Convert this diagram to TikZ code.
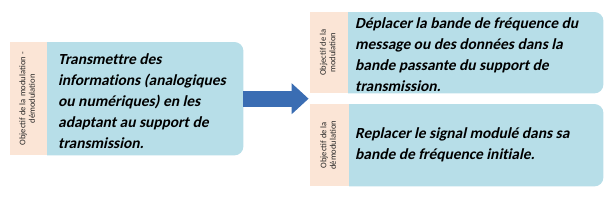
\documentclass[tikz,border=0pt]{standalone}
\usepackage{fontspec}
\setmainfont{Carlito}[BoldFont={Carlito Bold}, BoldItalicFont={Carlito Bold}, BoldItalicFeatures={FakeSlant=0.22, Ligatures=NoCommon}]
\usetikzlibrary{arrows.meta, backgrounds, calc}
\definecolor{tagpeach}{HTML}{FBE5D6}
\definecolor{boxblue}{HTML}{B7DEE8}
\definecolor{arrowblue}{HTML}{3A6DB3}
\newcommand{\tagtext}[1]{\rotatebox{90}{\begin{tabular}{@{}c@{}}#1\end{tabular}}}

\begin{document}
\begin{tikzpicture}[x=1pt,y=1pt,
  tag/.style={fill=tagpeach, inner sep=0pt, font=\fontsize{8.6}{9.5}\selectfont, text=black!85},
  panel/.style={inner sep=0pt},
  says/.style={anchor=west, align=left, inner sep=0pt, font=\fontsize{15.4}{21}\selectfont\bfseries\itshape}]
  \useasboundingbox (0,0) rectangle (610,210);
  % left: modulation - demodulation
  \node[panel, minimum width=196pt, minimum height=113pt, anchor=north west] (lpanel) at (47,168) {};
  \node[tag, minimum width=37pt, minimum height=113pt, anchor=north east] (ltag) at (lpanel.north west) {\tagtext{Objectif de la modulation -\\démodulation}};
  \node[says] (lsays) at ([xshift=11pt,yshift=-2pt]lpanel.west) {Transmettre des\\informations (analogiques\\ou numériques) en les\\adaptant au support de\\transmission.};
  % top right: modulation
  \node[panel, minimum width=255pt, minimum height=81pt, anchor=north west] (tpanel) at (348,198) {};
  \node[tag, minimum width=38pt, minimum height=81pt, anchor=north east] (ttag) at (tpanel.north west) {\tagtext{Objectif de la\\modulation}};
  \node[says] (tsays) at ([xshift=7pt,yshift=-2pt]tpanel.west) {Déplacer la bande de fréquence du\\message ou des données dans la\\bande passante du support de\\transmission.};
  % bottom right: demodulation
  \node[panel, minimum width=254pt, minimum height=82pt, anchor=north west] (bpanel) at (349,106) {};
  \node[tag, minimum width=39pt, minimum height=82pt, anchor=north east] (btag) at (bpanel.north west) {\tagtext{Objectif de la\\démodulation}};
  \node[says] (bsays) at ([xshift=6pt]bpanel.west) {Replacer le signal modulé dans sa\\bande de fréquence initiale.};
  % panel backgrounds, right corners rounded
  \begin{scope}[on background layer]
    \foreach \p in {lpanel,tpanel,bpanel}
      \fill[boxblue] (\p.south west) -- (\p.north west) -- ([xshift=-9pt]\p.north east)
        arc[start angle=90,end angle=0,radius=9pt] -- ([yshift=9pt]\p.south east)
        arc[start angle=0,end angle=-90,radius=9pt] -- cycle;
  \end{scope}
  % arrow
  \coordinate (gap) at ($(ttag.south west)!0.5!(btag.north west)+(-1,0)$);
  \draw[arrowblue, line width=16pt, -{Triangle[length=17pt,width=30pt]}] (lpanel.east) -- (gap);
\end{tikzpicture}
\end{document}
